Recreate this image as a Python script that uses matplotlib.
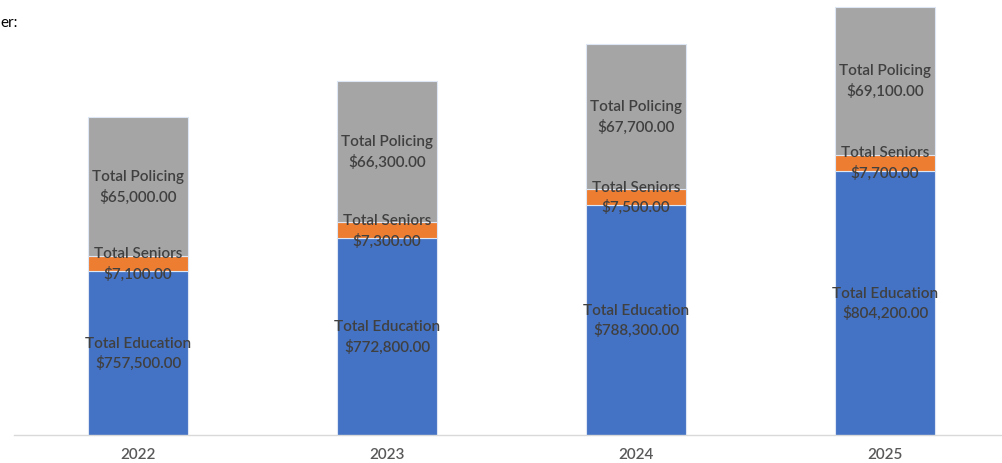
import matplotlib.pyplot as plt
import numpy as np

years = ['2022', '2023', '2024', '2025']
education = [757500, 772800, 788300, 804200]
seniors = [7100, 7300, 7500, 7700]
policing = [65000, 66300, 67700, 69100]

blue = '#4472C4'
orange = '#ED7D31'
grey = '#A5A5A5'
txt = '#404040'

plt.rcParams['font.family'] = ['Lato', 'DejaVu Sans']

fig = plt.figure(figsize=(10.02, 4.64), dpi=100)
ax = fig.add_axes([13.5 / 1002, 28 / 464, 996 / 1002, 436 / 464])

x = np.arange(len(years))
w = 0.4
edu = np.array(education)
sen = np.array(seniors)
pol = np.array(policing)

ax.bar(x, edu, w, color=blue, edgecolor='#dce6f5', linewidth=0.8)
ax.bar(x, sen, w, bottom=edu, color=orange, edgecolor='#dce6f5', linewidth=0.8)
ax.bar(x, pol, w, bottom=edu + sen, color=grey, edgecolor='#dce6f5', linewidth=0.8)

def money(v):
    return '${:,.2f}'.format(v)

lbl = dict(ha='center', va='center', fontsize=11, color=txt, linespacing=1.45,
           fontweight='semibold')
for i in range(len(years)):
    ax.text(x[i], edu[i] - (edu[i] - 680600) / 2, 'Total Education\n' + money(edu[i]), **lbl)
    ax.text(x[i], edu[i] + sen[i] / 2, 'Total Seniors\n' + money(sen[i]), **lbl)
    ax.text(x[i], edu[i] + sen[i] + pol[i] / 2, 'Total Policing\n' + money(pol[i]), **lbl)

ax.set_xlim(-0.5, 3.5)
ax.set_ylim(680600, 884700)
ax.set_xticks(x)
ax.set_xticklabels(years, fontsize=11, color='#595959', fontweight='semibold')
ax.tick_params(axis='x', length=0, pad=9)
ax.set_yticks([])
for s in ['top', 'right', 'left']:
    ax.spines[s].set_visible(False)
ax.spines['bottom'].set_color('#d9d9d9')
ax.spines['bottom'].set_linewidth(1)

fig.text(0, 1 - 27 / 464, 'er:', fontsize=11, color='black', ha='left', va='baseline')

fig.savefig('out.png', dpi=100)
